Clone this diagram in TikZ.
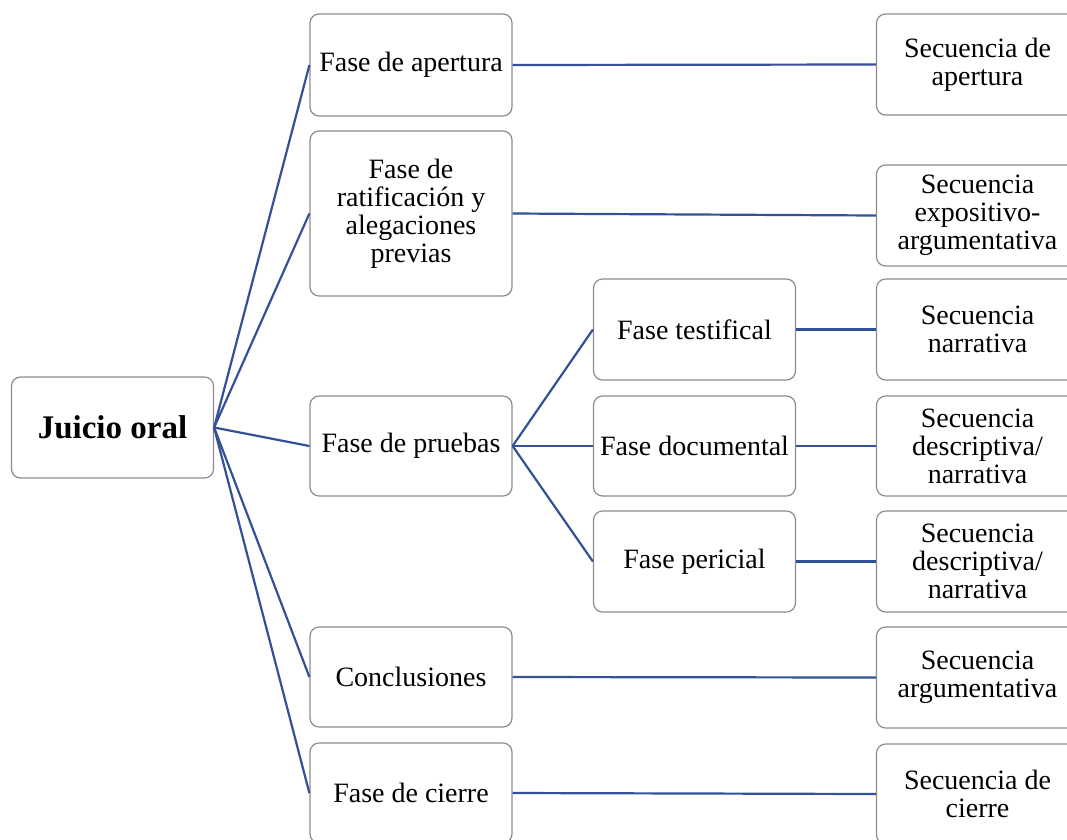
\documentclass[tikz,border=0pt]{standalone}
\usepackage{fontspec}
\setmainfont{Liberation Serif}
\definecolor{linkblue}{RGB}{52,80,150}
\definecolor{boxgray}{RGB}{140,140,140}
\tikzset{
  box/.style={draw=boxgray, line width=1.2pt, rounded corners=9pt, fill=white,
    align=flush center, inner sep=3pt, text width=196pt, minimum width=202pt,
    minimum height=100pt, font=\fontsize{28}{28}\selectfont},
  rootbox/.style={box, font=\fontsize{33}{33}\selectfont\bfseries},
  link/.style={draw=linkblue, line width=2.2pt}
}
\begin{document}
\begin{tikzpicture}[x=1pt,y=-1pt]
\path[use as bounding box] (0,0) rectangle (1067,839);
\clip (0,0) rectangle (1067,839);

% root
\node[rootbox, minimum height=101pt] (juicio) at (112.5,427.5) {Juicio oral};

% main phases
\node[box, minimum height=102pt] (apertura) at (411,65) {Fase de apertura};
\node[box, minimum height=165pt] (ratif) at (411,213.5) {Fase de\\ratificación y\\alegaciones\\previas};
\node[box] (pruebas) at (411,446) {Fase de pruebas};
\node[box] (concl) at (411,677) {Conclusiones};
\node[box] (cierre) at (411,793) {Fase de cierre};

% evidence sub-phases
\node[box, minimum height=101pt] (testif) at (694.5,329.5) {Fase testifical};
\node[box] (docum) at (694.5,446) {Fase documental};
\node[box, minimum height=101pt] (peric) at (694.5,561.5) {Fase pericial};

% discourse sequences
\node[box, minimum height=101pt] (sapert) at (977.5,64.5) {Secuencia de\\apertura};
\node[box, minimum height=101pt] (sexpo) at (977.5,215.5) {Secuencia\\expositivo-\\argumentativa};
\node[box, minimum height=101pt] (snarr) at (977.5,329.5) {Secuencia\\narrativa};
\node[box] (sdesc1) at (977.5,446) {Secuencia\\descriptiva/\\narrativa};
\node[box, minimum height=101pt] (sdesc2) at (977.5,561.5) {Secuencia\\descriptiva/\\narrativa};
\node[box, minimum height=101pt] (sarg) at (977.5,677.5) {Secuencia\\argumentativa};
\node[box] (scierre) at (977.5,794) {Secuencia de\\cierre};

% connectors
\foreach \n in {apertura,ratif,pruebas,concl,cierre}
  \draw[link] (juicio.east) -- (\n.west);
\foreach \n in {testif,docum,peric}
  \draw[link] (pruebas.east) -- (\n.west);
\draw[link] (apertura.east) -- (sapert.west);
\draw[link] (ratif.east) -- (sexpo.west);
\draw[link] (testif.east) -- (snarr.west);
\draw[link] (docum.east) -- (sdesc1.west);
\draw[link] (peric.east) -- (sdesc2.west);
\draw[link] (concl.east) -- (sarg.west);
\draw[link] (cierre.east) -- (scierre.west);
\end{tikzpicture}
\end{document}
